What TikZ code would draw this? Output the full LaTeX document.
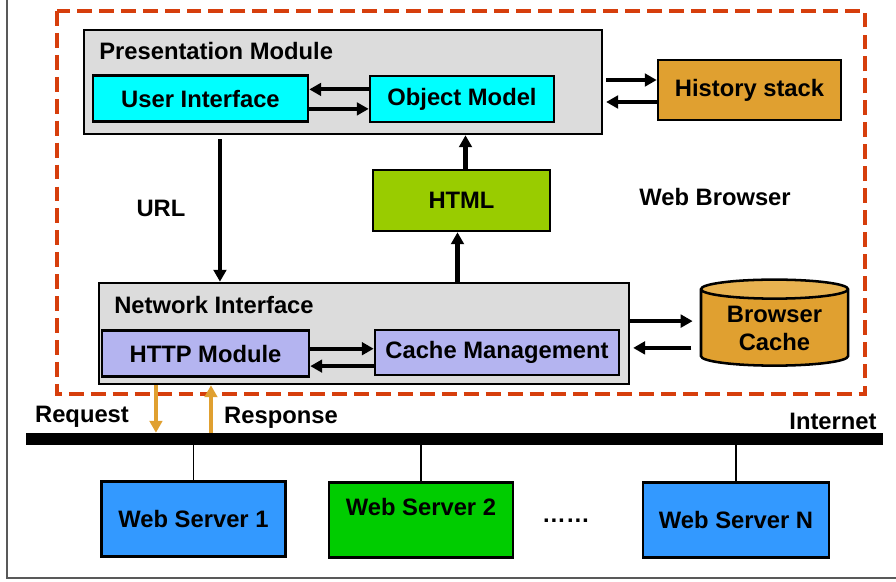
\documentclass[tikz,border=0pt]{standalone}
\usepackage{fontspec}
\setmainfont{Liberation Sans}
\usetikzlibrary{arrows.meta,shapes.geometric}

\definecolor{panelgray}{RGB}{220,220,220}
\definecolor{uicyan}{RGB}{0,255,255}
\definecolor{stackorange}{RGB}{224,160,48}
\definecolor{cachetop}{RGB}{232,178,80}
\definecolor{htmlgreen}{RGB}{153,204,0}
\definecolor{netlilac}{RGB}{180,180,240}
\definecolor{serverblue}{RGB}{51,153,255}
\definecolor{servergreen}{RGB}{0,204,0}
\definecolor{browserred}{RGB}{214,62,12}

\begin{document}
\begin{tikzpicture}[
    x=0.025cm, y=-0.025cm,
    font=\fontsize{16.9}{19}\selectfont\bfseries,
    box/.style={draw, line width=1.8pt, inner sep=0pt},
    module/.style={box, fill=panelgray},
    part/.style={box, minimum height=1.16cm},
    server/.style={box, minimum width=4.6cm, minimum height=1.87cm},
    title/.style={anchor=base west, inner xsep=0pt},
    arr/.style={->, line width=2.9pt},
    reqarr/.style={->, line width=2.9pt, stackorange},
    >={Triangle[length=8.5pt,width=9pt]}
]
\useasboundingbox (0,0) rectangle (896,581);
\draw[gray!70!black, line width=1pt] (7,0) -- (7,578) -- (896,578);

% browser boundary
\draw[browserred, line width=2.8pt, dash pattern=on 10.6pt off 5pt] (57,11) rectangle (865,394);

% presentation side
\node[module, minimum width=12.95cm, minimum height=2.6cm] (pm) at (343,82) {};
\node[title] (pmtitle) at (99,59) {Presentation Module};
\node[part, fill=uicyan, minimum width=5.375cm] (ui) at (200.5,98.5) {User Interface};
\node[part, fill=uicyan, minimum width=4.6cm] (om) at (462,99) {Object Model};
\node[box, fill=stackorange, minimum width=4.575cm, minimum height=1.5cm] (hs) at (749.5,90) {History stack};
\node[box, fill=htmlgreen, minimum width=4.425cm, minimum height=1.525cm] (html) at (461.5,200.5) {HTML};

\draw[arr] ([yshift=0.24cm]om.west) -- ([yshift=0.24cm]om.west -| ui.east);
\draw[arr] ([yshift=-0.26cm]ui.east) -- ([yshift=-0.26cm]ui.east -| om.west);
\draw[arr] ([xshift=2pt,yshift=0.25cm]hs.west -| pm.east) -- ([yshift=0.25cm]hs.west);
\draw[arr] ([yshift=-0.3cm]hs.west) -- ([xshift=2pt,yshift=-0.3cm]hs.west -| pm.east);
\draw[arr] ([xshift=0.1cm]html.north) -- ([xshift=0.1cm]html.north |- pm.south);

% network side
\node[module, minimum width=13.25cm, minimum height=2.525cm] (ni) at (364,333.5) {};
\node[title] (nititle) at (114,313) {Network Interface};
\node[part, fill=netlilac, minimum width=5.175cm] (http) at (205.5,353.5) {HTTP Module};
\node[part, fill=netlilac, minimum width=6.1cm, minimum height=1.125cm] (cm) at (497,352.5) {Cache Management};
\node[cylinder, shape border rotate=90, aspect=0.2, draw, line width=1.8pt,
      cylinder uses custom fill, cylinder body fill=stackorange, cylinder end fill=cachetop,
      minimum width=3.675cm, minimum height=2.15cm, align=center, inner sep=0pt] (bc) at (774.5,328) {Browser\\[1pt]Cache};

\draw[arr] ([yshift=0.12cm]http.east) -- ([yshift=0.12cm]http.east -| cm.west);
\draw[arr] ([yshift=-0.34cm]cm.west) -- ([yshift=-0.34cm]cm.west -| http.east);
\draw[arr, shorten >=5pt] ([yshift=0.31cm]ni.east) -- ([yshift=0.31cm]ni.east -| bc.west);
\draw[arr, shorten <=6pt] ([yshift=-0.36cm]ni.east -| bc.west) -- ([xshift=2pt,yshift=-0.36cm]ni.east);
\draw[arr] ([xshift=-0.1cm]html.south |- ni.north) -- ([xshift=-0.1cm]html.south);
\draw[arr] ([xshift=-3.075cm,yshift=-0.1cm]pm.south) -- ([xshift=-3.075cm]pm.south |- ni.north);

\node (url) at (161,208) {URL};
\node (wb) at (715,197) {Web Browser};

% internet and servers
\node[fill=black, inner sep=0pt, minimum width=21.425cm, minimum height=0.3cm] (bus) at (454.5,439) {};
\node (inet) at (833,421) {Internet};
\node (req) at (82,417) {Request};
\node (resp) at (281,418) {Response};
\draw[reqarr] ([xshift=-5.2cm]ni.south) -- ([xshift=-5.2cm]ni.south |- bus.north);
\draw[reqarr] ([xshift=-3.825cm]ni.south |- bus.north) -- ([xshift=-3.825cm]ni.south);

\node[server, fill=serverblue] (ws1) at (193.5,519) {Web Server 1};
\node[server, fill=servergreen] (ws2) at (421,520) {};
\node (ws2name) at (421,507) {Web Server 2};
\node (dots) at (566,521) {……};
\node[server, fill=serverblue, minimum width=4.65cm] (wsn) at (736,520) {Web Server N};

\foreach \s in {ws1,ws2,wsn}
  \draw[line width=0.8pt] (\s.north) -- (\s.north |- bus.south);
\end{tikzpicture}
\end{document}
